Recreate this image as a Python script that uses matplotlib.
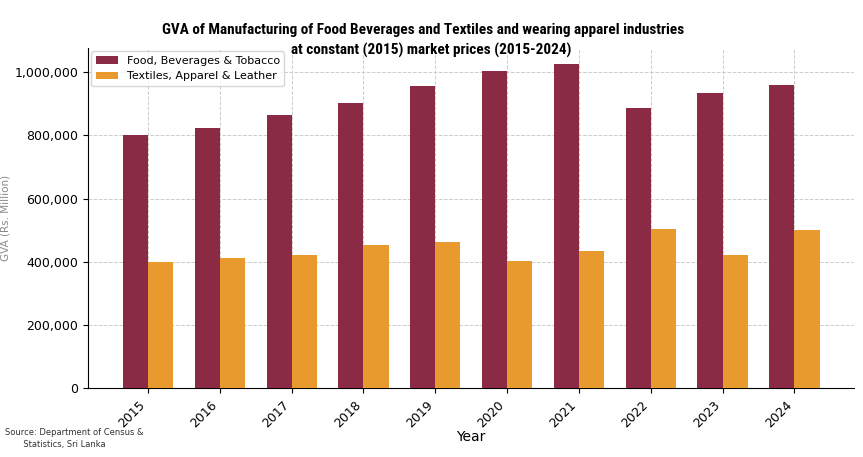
import numpy as np
import matplotlib
matplotlib.use('agg')
import matplotlib.pyplot as plt

years = ['2015', '2016', '2017', '2018', '2019', '2020', '2021', '2022', '2023', '2024']
food = [801000, 822000, 864000, 903000, 955000, 1005000, 1025000, 886000, 935000, 958000]
textiles = [399000, 411000, 423000, 452000, 463000, 403000, 434000, 504000, 422000, 502000]

food_col = '#8a2a45'
text_col = '#e89a2e'


def plot_chart():
    fig = plt.figure(figsize=(8.63, 4.57), dpi=100)
    ax = fig.add_axes([0.102, 0.150, 0.888, 0.745])

    x = np.arange(len(years))
    w = 0.35
    ax.bar(x - w/2, food, w, color=food_col, label='Food, Beverages & Tobacco', zorder=3)
    ax.bar(x + w/2, textiles, w, color=text_col, label='Textiles, Apparel & Leather', zorder=3)

    ax.set_xticks(x)
    ax.set_xticklabels(years, rotation=45, ha='right', fontsize=9)
    ax.set_yticks([0, 200000, 400000, 600000, 800000, 1000000])
    ax.set_yticklabels(['0', '200,000', '400,000', '600,000', '800,000', '1,000,000'], fontsize=9)
    ax.set_xlabel('Year', fontsize=10, labelpad=0)
    ax.set_ylabel('GVA (Rs. Million)', fontsize=7.5, color='#8a8a8a', labelpad=3)

    ax.grid(True, linestyle='--', color='#cccccc', linewidth=0.7, zorder=0)
    ax.spines['top'].set_visible(False)
    ax.spines['right'].set_visible(False)

    ax.legend(loc='upper left', fontsize=8, frameon=True, borderaxespad=0.3)

    # title, drawn a bit left of centre like the printed page
    fig.text(0.49, 0.935, 'GVA of Manufacturing of Food Beverages and Textiles and wearing apparel industries',
             fontsize=11, fontweight='bold', family=['Roboto Condensed', 'Roboto', 'DejaVu Sans'],
             ha='center', va='center')
    fig.text(0.50, 0.89, 'at constant (2015) market prices (2015-2024)',
             fontsize=11, fontweight='bold', family=['Roboto Condensed', 'Roboto', 'DejaVu Sans'],
             ha='center', va='center')

    fig.text(0.006, 0.022, 'Source: Department of Census &\n       Statistics, Sri Lanka',
             fontsize=6, color='#333333', linespacing=1.4)

    plt.savefig('out.png', dpi=100)


if __name__ == "__main__":
    plot_chart()
